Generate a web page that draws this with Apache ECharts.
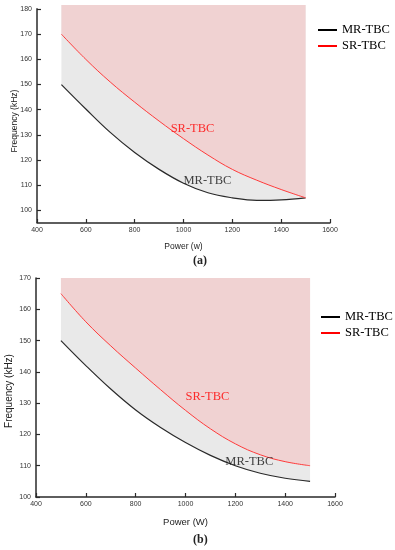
<!DOCTYPE html>
<html>
<head>
<meta charset="utf-8">
<script src="https://cdn.jsdelivr.net/npm/echarts@6/dist/echarts.min.js"></script>
<style>html,body{margin:0;padding:0;background:#fff}#c{width:395px;height:550px}</style>
</head>
<body>
<div id="c"></div>
<script>
// ---- data ----
const powerA = [500, 600, 700, 800, 900, 1000, 1100, 1200, 1300, 1400, 1500];
const mrA = [150, 140.3, 131, 123, 116.3, 110.8, 107, 105, 104, 104.2, 105];
const srA = [170, 160, 151, 143, 135.5, 128.5, 122, 116.3, 112, 108.3, 105];
const powerB = [500, 600, 700, 800, 900, 1000, 1100, 1200, 1300, 1400, 1500];
const mrB = [150, 142, 134.5, 127.8, 122.2, 117.4, 113.3, 110, 107.6, 106, 105];
const srB = [165, 156, 148.3, 141.2, 134.3, 127.7, 121.8, 117, 113.5, 111.3, 110];
const yTicksA = [100, 110, 120, 130, 140, 150, 160, 170, 180];
const labelsA = [{ name: 'SR-TBC', at: [1037, 132.4] }, { name: 'MR-TBC', at: [1098, 111.6] }];
const labelsB = [{ name: 'SR-TBC', at: [1088, 132] }, { name: 'MR-TBC', at: [1256, 111.2] }];

// ---- styles ----
const GRAY = '#e9e9e9', PINK = '#f0d2d2', RED = '#ff3b3b', DARK = '#2a2a2a';
const SERIF = '"Liberation Serif", "DejaVu Serif", serif';
const SANS = '"Liberation Sans", Arial, sans-serif';

const zip = (xs, ys) => xs.map((x, i) => [x, ys[i]]);

function axisCommon() {
  return {
    axisLine: { show: true, onZero: false, lineStyle: { color: DARK, width: 1.5 } },
    axisTick: { show: true, inside: true, length: 4, lineStyle: { color: DARK, width: 1.2 } },
    axisLabel: { color: '#333', fontSize: 7, fontFamily: SANS, formatter: v => String(v) },
    splitLine: { show: false }
  };
}

function buildSeries(idx, power, mr, sr, labels, extra) {
  const out = [
    Object.assign({
      name: 'MR-TBC', type: 'line', xAxisIndex: idx, yAxisIndex: idx,
      data: zip(power, mr), smooth: 0.4, symbol: 'none',
      itemStyle: { color: '#000' },
      lineStyle: { color: DARK, width: 1.2 },
      areaStyle: { color: GRAY, opacity: 1, origin: 'end' }, z: 2
    }, extra || {}),
    {
      name: 'SR-TBC', type: 'line', xAxisIndex: idx, yAxisIndex: idx,
      data: zip(power, sr), smooth: 0.4, symbol: 'none',
      itemStyle: { color: '#ff0000' },
      lineStyle: { color: RED, width: 1 },
      areaStyle: { color: PINK, opacity: 1, origin: 'end' }, z: 3
    }
  ];
  labels.forEach(l => {
    out.push({
      name: 'lbl' + idx + l.name, type: 'scatter', xAxisIndex: idx, yAxisIndex: idx,
      data: [l.at], symbolSize: 1, itemStyle: { color: 'rgba(0,0,0,0)' }, silent: true, z: 6,
      label: {
        show: true, position: 'inside', formatter: l.name,
        color: l.name === 'SR-TBC' ? '#ff0000' : '#111',
        fontSize: 12.5, fontFamily: SERIF
      }
    });
  });
  return out;
}

const chart = echarts.init(document.getElementById('c'), null, { renderer: 'canvas' });
const xA = Object.assign(axisCommon(), {
  type: 'value', gridIndex: 0, min: 400, max: 1600, interval: 200,
  name: 'Power (w)', nameLocation: 'middle', nameGap: 19,
  nameTextStyle: { color: '#222', fontSize: 8.5, fontFamily: SANS }
});
xA.axisLabel.margin = 4;
// region in (a) reaches slightly above the 180 tick; axis line drawn only up to 180
const yA = Object.assign(axisCommon(), {
  type: 'value', gridIndex: 0, min: 95, max: 181.6
});
yA.axisLine = { show: false };
yA.axisLabel = Object.assign({}, yA.axisLabel, { customValues: yTicksA, margin: 5 });
yA.axisTick = Object.assign({}, yA.axisTick, { customValues: yTicksA });

const xB = Object.assign(axisCommon(), {
  type: 'value', gridIndex: 1, min: 400, max: 1600, interval: 200,
  name: 'Power (W)', nameLocation: 'middle', nameGap: 20,
  nameTextStyle: { color: '#222', fontSize: 9.5, fontFamily: SANS }
});
xB.axisLabel.margin = 4;
const yB = Object.assign(axisCommon(), {
  type: 'value', gridIndex: 1, min: 100, max: 170, interval: 10
});
yB.axisLabel.margin = 5;

const axisLineA = {
  silent: true, symbol: 'none', label: { show: false },
  lineStyle: { color: DARK, width: 1.5, type: 'solid' },
  data: [[{ coord: [400, 95] }, { coord: [400, 180.3] }]]
};

const legendText = { color: '#000', fontSize: 12.5, fontFamily: SERIF, lineHeight: 14 };
chart.setOption({
  animation: false,
  backgroundColor: '#fff',
  grid: [
    { left: 37, right: 65, top: 5, height: 218, containLabel: false, outerBoundsMode: 'none' },
    { left: 36, right: 60, top: 278, height: 219, containLabel: false, outerBoundsMode: 'none' }
  ],
  xAxis: [xA, xB],
  yAxis: [yA, yB],
  legend: [
    { data: ['MR-TBC', 'SR-TBC'], orient: 'vertical', left: 318, top: 23, padding: 0, icon: 'rect',
      itemWidth: 19, itemHeight: 2, itemGap: 2, textStyle: legendText, selectedMode: false },
    { data: ['MR-TBC', 'SR-TBC'], orient: 'vertical', left: 321, top: 310, padding: 0, icon: 'rect',
      itemWidth: 19, itemHeight: 2, itemGap: 2, textStyle: legendText, selectedMode: false }
  ],
  graphic: [
    { type: 'text', x: 15, y: 121, rotation: Math.PI / 2,
      style: { text: 'Frequency (kHz)', font: '8.5px ' + SANS, fill: '#222', align: 'center', verticalAlign: 'middle' } },
    { type: 'text', x: 9.5, y: 391, rotation: Math.PI / 2,
      style: { text: 'Frequency (kHz)', font: '10px ' + SANS, fill: '#222', align: 'center', verticalAlign: 'middle' } },
    { type: 'text', left: 193, top: 255, style: { text: '(a)', font: 'bold 12px ' + SERIF, fill: '#222' } },
    { type: 'text', left: 193, top: 534, style: { text: '(b)', font: 'bold 12px ' + SERIF, fill: '#222' } }
  ],
  series: buildSeries(0, powerA, mrA, srA, labelsA, { markLine: axisLineA })
    .concat(buildSeries(1, powerB, mrB, srB, labelsB))
});
</script>
</body>
</html>
